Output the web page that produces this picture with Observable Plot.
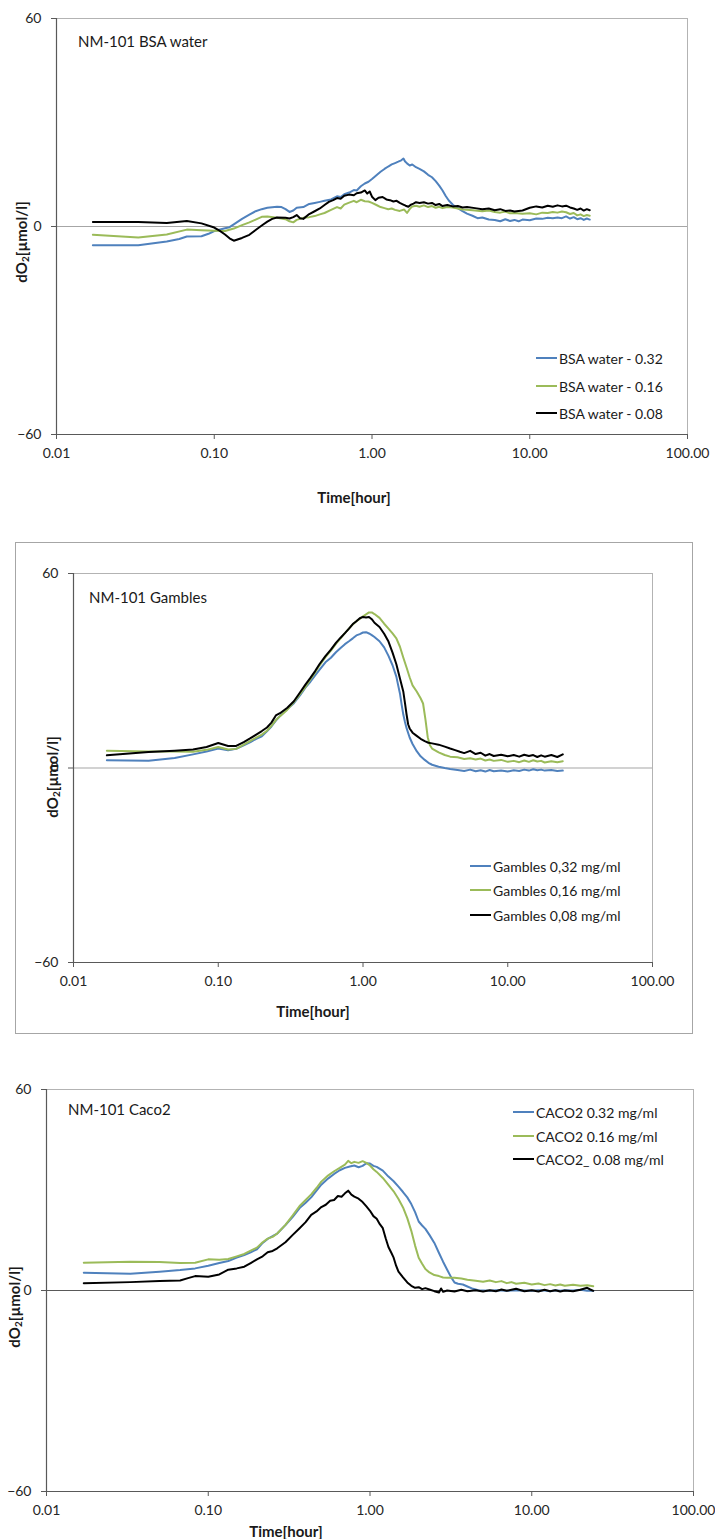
<!DOCTYPE html>
<html>
<head>
<meta charset="utf-8">
<script src="https://cdn.jsdelivr.net/npm/d3@7"></script>
<script src="https://cdn.jsdelivr.net/npm/@observablehq/plot@0.6"></script>
<style>
  body { margin: 0; background: #fff; }
  #page { position: relative; width: 715px; height: 1539px; overflow: hidden; background: #fff; }
  #page svg { position: absolute; left: 0; }
  #box2 { position: absolute; left: 15px; top: 542px; width: 676px; height: 490px; border: 1px solid #a6a6a6; }
</style>
</head>
<body>
<div id="page"><div id="box2"></div></div>
<script>
// Oxygen consumption (dO2, µmol/l) versus time (hours) for NM-101 in three media.
const FONT = "Lato, 'Liberation Sans', sans-serif";
const BLUE = "#4f81bd", GREEN = "#9bbb59", BLACK = "#000000";

const xTicks = [0.01, 0.1, 1, 10, 100];
const yTicks = [-60, 0, 60];

// ---- NM-101 BSA water: [time h, dO2] ----
const bsa032 = [[0.017,-5.4],[0.033,-5.4],[0.05,-4.3],[0.06,-3.6],[0.067,-2.9],[0.083,-2.8],[0.092,-2.1],[0.1,-1.3],[0.117,-0.5],[0.125,-0.2],[0.133,0.6],[0.15,2.2],[0.167,3.4],[0.183,4.4],[0.2,5.0],[0.217,5.4],[0.25,5.7],[0.267,5.6],[0.283,5.0],[0.3,4.2],[0.317,4.6],[0.333,5.4],[0.367,5.6],[0.4,6.5],[0.433,6.8],[0.467,7.1],[0.5,7.4],[0.55,7.8],[0.6,8.7],[0.633,8.5],[0.667,9.3],[0.717,9.8],[0.767,10.5],[0.8,10.4],[0.85,11.6],[0.9,12.4],[0.95,12.9],[1.0,13.7],[1.067,14.8],[1.133,15.8],[1.2,16.6],[1.267,17.3],[1.333,17.9],[1.4,18.3],[1.467,18.7],[1.533,19.1],[1.583,19.6],[1.617,18.8],[1.667,18.2],[1.733,17.6],[1.8,17.9],[1.9,17.1],[2.0,16.6],[2.133,15.9],[2.267,14.9],[2.4,14.2],[2.533,13.1],[2.667,11.8],[2.8,10.4],[2.933,8.8],[3.067,7.5],[3.267,6.2],[3.5,5.3],[3.75,4.4],[4.0,3.7],[4.333,3.1],[4.667,2.4],[5.0,2.6],[5.5,2.0],[6.0,1.9],[6.5,1.5],[7.0,2.1],[7.5,1.6],[8.0,1.9],[8.5,1.5],[9.0,2.0],[10,1.8],[11,2.3],[12,2.2],[13,2.5],[14,2.4],[15,2.6],[16,2.4],[17,2.9],[18,2.3],[19,2.7],[20,2.1],[21,2.4],[22,1.9],[23,2.3],[24,2.0]];
const bsa016 = [[0.017,-2.4],[0.033,-3.2],[0.05,-2.3],[0.067,-0.9],[0.083,-1.1],[0.1,-1.2],[0.117,-1.3],[0.133,-0.6],[0.15,0.4],[0.167,1.2],[0.183,2.0],[0.2,2.8],[0.217,2.9],[0.25,2.5],[0.283,2.1],[0.3,1.5],[0.317,1.2],[0.333,1.9],[0.367,2.5],[0.4,2.7],[0.433,3.0],[0.467,3.5],[0.5,3.9],[0.55,4.8],[0.6,5.6],[0.633,5.2],[0.667,6.3],[0.717,6.9],[0.767,7.4],[0.8,7.0],[0.85,7.7],[0.9,7.3],[0.95,7.2],[1.0,6.8],[1.067,6.2],[1.133,5.6],[1.2,5.3],[1.267,5.0],[1.333,5.2],[1.4,4.8],[1.5,4.5],[1.6,4.9],[1.667,3.9],[1.733,5.0],[1.8,5.8],[1.9,6.0],[2.0,5.7],[2.133,6.1],[2.267,5.6],[2.4,5.9],[2.533,5.4],[2.667,5.7],[2.8,5.3],[3.0,5.6],[3.25,5.5],[3.5,5.2],[3.75,4.9],[4.0,4.8],[4.5,4.6],[5.0,4.4],[5.5,4.6],[6.0,4.2],[6.5,4.0],[7.0,4.3],[7.5,3.8],[8.0,3.9],[9.0,3.7],[10,3.8],[11,3.5],[12,4.0],[13,3.9],[14,4.2],[15,4.0],[16,4.3],[17,4.1],[18,3.6],[19,3.9],[20,3.2],[21,3.5],[22,3.0],[23,3.3],[24,3.1]];
const bsa008 = [[0.017,1.3],[0.033,1.3],[0.05,1.0],[0.067,1.6],[0.083,0.9],[0.1,-0.3],[0.108,-1.2],[0.117,-2.3],[0.125,-3.4],[0.133,-4.1],[0.15,-3.3],[0.167,-2.4],[0.183,-1.0],[0.2,0.3],[0.217,1.4],[0.233,2.2],[0.25,2.6],[0.283,2.5],[0.3,2.3],[0.317,2.7],[0.333,3.3],[0.35,2.4],[0.367,2.2],[0.4,3.6],[0.433,4.4],[0.467,5.2],[0.5,6.2],[0.533,7.1],[0.567,7.6],[0.6,8.2],[0.633,8.0],[0.667,8.9],[0.717,9.2],[0.767,9.0],[0.8,9.6],[0.85,9.8],[0.9,10.4],[0.933,9.5],[0.967,10.1],[1.0,8.6],[1.05,7.6],[1.1,8.3],[1.167,8.5],[1.233,7.8],[1.3,7.6],[1.367,7.2],[1.433,7.4],[1.5,6.8],[1.567,6.4],[1.633,6.0],[1.7,5.7],[1.767,6.3],[1.833,6.6],[1.9,7.0],[2.0,6.8],[2.133,7.0],[2.267,6.6],[2.4,6.8],[2.533,6.2],[2.667,6.5],[2.8,5.9],[3.0,6.2],[3.25,5.8],[3.5,5.9],[3.75,5.5],[4.0,5.6],[4.5,5.3],[5.0,5.0],[5.5,5.2],[6.0,4.7],[6.5,5.0],[7.0,4.5],[7.5,4.6],[8.0,4.3],[9.0,4.6],[10,5.4],[11,5.8],[12,5.5],[13,6.0],[14,5.7],[15,6.1],[16,5.8],[17,6.0],[18,5.5],[19,5.2],[20,4.8],[21,5.2],[22,4.6],[23,5.0],[24,4.7]];

// ---- NM-101 Gambles ----
const gam032 = [[0.017,2.4],[0.033,2.2],[0.05,3.1],[0.067,4.2],[0.083,5.1],[0.1,6.0],[0.117,5.5],[0.133,5.9],[0.15,7.0],[0.167,8.0],[0.183,9.0],[0.2,9.8],[0.217,11.3],[0.233,12.8],[0.25,14.6],[0.267,16.0],[0.3,18.2],[0.333,20.0],[0.367,22.4],[0.4,24.8],[0.433,26.6],[0.467,28.6],[0.5,30.3],[0.55,32.6],[0.6,34.0],[0.65,35.7],[0.7,37.0],[0.75,38.2],[0.8,39.1],[0.85,40.0],[0.9,40.9],[0.95,41.3],[1.0,41.8],[1.05,41.9],[1.1,41.5],[1.15,41.0],[1.2,40.4],[1.3,39.1],[1.4,37.2],[1.5,34.6],[1.6,31.7],[1.7,28.2],[1.75,25.5],[1.8,23.0],[1.85,19.5],[1.9,16.4],[1.95,14.2],[2.0,12.3],[2.1,9.4],[2.2,7.4],[2.35,5.2],[2.5,3.6],[2.67,2.5],[2.83,1.6],[3.0,1.0],[3.33,0.4],[3.67,0.0],[4.0,-0.3],[4.5,-0.6],[5.0,-0.9],[5.5,-0.5],[6.0,-1.0],[6.5,-0.7],[7.0,-1.1],[7.5,-0.6],[8.0,-1.0],[9.0,-0.8],[10,-1.1],[11,-0.7],[12,-0.9],[13,-0.5],[14,-0.8],[15,-0.4],[16,-0.7],[17,-0.5],[18,-0.8],[20,-0.6],[22,-0.9],[24,-0.8]];
const gam016 = [[0.017,5.3],[0.033,5.1],[0.05,5.1],[0.067,5.0],[0.083,5.6],[0.1,6.5],[0.117,5.7],[0.133,5.9],[0.15,7.2],[0.167,8.4],[0.183,9.4],[0.2,10.3],[0.217,11.5],[0.233,13.0],[0.25,14.8],[0.267,16.0],[0.3,18.0],[0.333,20.3],[0.367,22.8],[0.4,25.0],[0.433,27.3],[0.467,29.5],[0.5,31.6],[0.55,34.2],[0.6,36.2],[0.65,38.3],[0.7,40.0],[0.75,41.6],[0.8,43.0],[0.85,44.3],[0.9,45.3],[0.95,46.0],[1.0,46.8],[1.05,47.4],[1.1,48.0],[1.15,48.0],[1.2,47.5],[1.3,46.3],[1.4,44.5],[1.5,43.0],[1.6,41.5],[1.7,40.0],[1.8,37.4],[1.9,34.0],[2.0,31.0],[2.1,28.0],[2.2,25.5],[2.35,23.6],[2.5,21.5],[2.6,19.9],[2.7,15.0],[2.8,9.5],[2.9,7.0],[3.0,6.0],[3.33,4.8],[3.67,4.0],[4.0,3.5],[4.5,3.3],[5.0,2.8],[5.5,3.0],[6.0,2.6],[6.5,2.9],[7.0,2.3],[7.5,2.6],[8.0,2.2],[9.0,2.5],[10,1.9],[11,2.2],[12,1.8],[13,2.3],[14,1.9],[15,2.4],[16,2.0],[17,2.2],[18,1.7],[20,2.1],[22,1.8],[24,2.1]];
const gam008 = [[0.017,3.9],[0.033,4.9],[0.05,5.3],[0.067,5.7],[0.083,6.5],[0.1,7.7],[0.117,6.8],[0.133,6.8],[0.15,8.0],[0.167,9.2],[0.183,10.3],[0.2,11.4],[0.217,12.5],[0.233,14.0],[0.25,16.2],[0.267,16.9],[0.3,18.6],[0.333,20.6],[0.367,23.3],[0.4,25.7],[0.433,27.8],[0.467,29.9],[0.5,32.0],[0.55,34.5],[0.6,36.5],[0.65,38.6],[0.7,40.2],[0.75,41.6],[0.8,43.0],[0.85,44.4],[0.9,45.3],[0.95,46.2],[1.0,46.6],[1.05,46.4],[1.1,46.6],[1.15,45.9],[1.2,44.8],[1.3,43.5],[1.4,41.4],[1.5,39.0],[1.6,35.6],[1.7,32.0],[1.8,27.6],[1.9,23.5],[1.95,20.0],[2.0,16.5],[2.05,13.5],[2.1,12.2],[2.2,10.9],[2.35,9.9],[2.5,9.0],[2.67,8.3],[2.83,7.8],[3.0,7.6],[3.33,7.2],[3.67,6.6],[4.0,6.0],[4.33,5.5],[4.67,5.0],[5.0,4.6],[5.5,5.3],[6.0,4.3],[6.5,4.7],[7.0,3.8],[7.5,4.3],[8.0,3.7],[9.0,4.1],[10,3.6],[11,4.0],[12,3.5],[13,4.1],[14,3.7],[15,4.0],[16,3.4],[17,3.9],[18,3.5],[20,4.0],[22,3.4],[24,4.2]];

// ---- NM-101 Caco2 ----
const caco032 = [[0.017,5.3],[0.033,5.0],[0.05,5.6],[0.067,6.1],[0.083,6.6],[0.1,7.4],[0.117,8.2],[0.133,8.8],[0.15,9.8],[0.167,10.6],[0.183,11.4],[0.2,12.3],[0.217,14.2],[0.233,15.4],[0.25,16.2],[0.267,17.0],[0.3,19.5],[0.333,22.0],[0.367,24.6],[0.4,26.2],[0.433,27.8],[0.467,29.8],[0.5,31.6],[0.55,33.4],[0.6,34.8],[0.65,35.9],[0.7,36.6],[0.75,37.0],[0.8,37.3],[0.85,36.8],[0.9,37.2],[0.95,38.0],[1.0,37.9],[1.05,37.2],[1.1,36.9],[1.2,35.8],[1.3,34.0],[1.4,32.6],[1.5,31.0],[1.6,29.4],[1.7,27.8],[1.8,25.8],[1.9,23.4],[2.0,20.6],[2.1,19.4],[2.2,18.4],[2.33,16.6],[2.5,14.2],[2.67,11.2],[2.83,8.6],[3.0,6.2],[3.17,4.0],[3.33,2.4],[3.5,2.0],[3.75,1.8],[4.0,1.2],[4.33,0.5],[4.67,0.1],[5.0,0.0],[5.5,-0.1],[6.0,0.1],[7.0,-0.1],[8.0,0.1],[9.0,0.0],[10,-0.1],[11,0.1],[12,0.0],[13,-0.2],[14,0.1],[15,-0.1],[16,0.1],[18,0.0],[20,0.2],[22,-0.1],[24,-0.1]];
const caco016 = [[0.017,8.3],[0.033,8.6],[0.05,8.5],[0.067,8.2],[0.083,8.3],[0.1,9.3],[0.117,9.2],[0.133,9.4],[0.15,10.2],[0.167,10.9],[0.183,11.9],[0.2,12.8],[0.217,14.4],[0.233,15.5],[0.25,16.0],[0.267,17.0],[0.3,19.6],[0.333,22.4],[0.367,25.2],[0.4,27.0],[0.433,28.7],[0.467,30.6],[0.5,32.5],[0.55,34.3],[0.6,35.6],[0.65,36.6],[0.7,37.6],[0.733,38.7],[0.767,38.0],[0.8,38.4],[0.85,38.1],[0.9,38.6],[0.95,38.1],[1.0,37.3],[1.05,36.2],[1.1,35.4],[1.2,33.6],[1.3,31.5],[1.4,29.6],[1.5,27.3],[1.6,24.8],[1.7,21.6],[1.8,17.8],[1.9,13.4],[2.0,9.8],[2.1,8.0],[2.2,6.4],[2.33,5.4],[2.5,4.6],[2.67,4.3],[2.83,3.9],[3.0,3.8],[3.33,3.8],[3.67,3.6],[4.0,3.2],[4.5,2.9],[5.0,2.6],[5.5,3.0],[6.0,2.5],[6.5,2.8],[7.0,2.2],[7.5,2.5],[8.0,2.0],[9.0,2.3],[10,1.8],[11,2.1],[12,1.6],[13,1.9],[14,1.5],[15,1.8],[16,1.4],[18,1.7],[20,1.4],[22,1.6],[24,1.3]];
const caco008 = [[0.017,2.2],[0.033,2.5],[0.05,2.8],[0.067,3.0],[0.075,3.7],[0.083,4.3],[0.1,4.1],[0.117,4.8],[0.133,6.2],[0.15,6.6],[0.167,7.1],[0.183,8.2],[0.2,9.3],[0.217,10.2],[0.233,11.4],[0.25,11.8],[0.267,12.6],[0.3,14.4],[0.333,16.6],[0.367,18.6],[0.4,20.4],[0.433,22.6],[0.467,23.6],[0.5,24.9],[0.533,25.6],[0.567,26.8],[0.6,27.0],[0.633,28.2],[0.667,28.0],[0.7,29.0],[0.733,29.8],[0.767,28.6],[0.8,28.0],[0.85,27.4],[0.9,26.4],[0.95,25.1],[1.0,23.8],[1.05,22.2],[1.1,21.4],[1.15,19.8],[1.2,18.6],[1.25,15.6],[1.3,13.0],[1.35,11.4],[1.4,9.8],[1.45,7.4],[1.5,5.6],[1.6,3.9],[1.7,2.4],[1.8,1.4],[1.9,0.8],[2.0,1.0],[2.1,0.4],[2.2,0.7],[2.33,0.3],[2.5,-0.2],[2.67,-0.6],[2.75,0.6],[2.83,-0.4],[3.0,0.0],[3.33,-0.3],[3.67,0.2],[4.0,-0.2],[4.5,0.1],[5.0,-0.3],[5.5,0.1],[6.0,-0.2],[6.5,0.3],[7.0,-0.1],[7.5,0.2],[8.0,0.5],[9.0,-0.2],[10,0.1],[11,-0.3],[12,0.2],[13,-0.2],[14,0.1],[15,-0.3],[16,0.0],[18,-0.2],[20,0.2],[22,0.8],[23,0.3],[24,-0.1]];

const bsaNames = ["BSA water - 0.32", "BSA water - 0.16", "BSA water - 0.08"];
const gamNames = ["Gambles 0,32 mg/ml", "Gambles 0,16 mg/ml", "Gambles 0,08 mg/ml"];
const cacoNames = ["CACO2 0.32 mg/ml", "CACO2 0.16 mg/ml", "CACO2_ 0.08 mg/ml"];
const seriesColors = [BLUE, GREEN, BLACK];

const panels = [
  { top: 0, height: 515, mt: 18, mb: 81, ml: 56, mr: 28, zero: "#a6a6a6",
    title: "NM-101 BSA water", titlePos: [78, 41],
    names: bsaNames, data: [bsa032, bsa016, bsa008],
    legend: { x: 536, rows: [358, 386, 413] },
    xTitle: [354, 497], yTitle: [21, 242] },
  { top: 530, height: 500, mt: 43, mb: 68, ml: 73, mr: 63, zero: "#a6a6a6",
    title: "NM-101 Gambles", titlePos: [89, 67],
    names: gamNames, data: [gam032, gam016, gam008],
    legend: { x: 470, rows: [336, 360, 385] },
    xTitle: [313, 481], yTitle: [52, 247] },
  { top: 1040, height: 499, mt: 49, mb: 48, ml: 46, mr: 22, zero: "#595959",
    title: "NM-101 Caco2", titlePos: [68, 69],
    names: cacoNames, data: [caco032, caco016, caco008],
    legend: { x: 513, rows: [72, 96, 119] },
    xTitle: [286, 491], yTitle: [14, 267] }
];

const page = document.getElementById("page");

for (const p of panels) {
  const rows = p.names.flatMap((name, i) => p.data[i].map(([t, v]) => ({ t, v, name })));
  const chart = Plot.plot({
    width: 715,
    height: p.height,
    marginTop: p.mt, marginBottom: p.mb, marginLeft: p.ml, marginRight: p.mr,
    style: { fontFamily: FONT, fontSize: "14px", color: "#262626", background: "transparent", overflow: "visible" },
    x: { type: "log", domain: [0.01, 100] },
    y: { domain: [-60, 60] },
    color: { domain: p.names, range: seriesColors },
    marks: [
      Plot.frame({ stroke: "#b3b3b3" }),
      Plot.ruleY([0], { stroke: p.zero, strokeWidth: 1.2 }),
      Plot.line(rows, { x: "t", y: "v", z: "name", stroke: "name", strokeWidth: 2, strokeLinejoin: "round" }),
      Plot.ruleX([0.01], { stroke: "#595959", strokeWidth: 1.2 }),
      Plot.ruleY([-60], { stroke: "#595959", strokeWidth: 1.2 }),
      Plot.axisX({ ticks: xTicks, tickFormat: d => d.toFixed(2), tickSize: 5, tickPadding: 9, label: null, stroke: "#595959" }),
      Plot.axisY({ ticks: yTicks, tickSize: 5, tickPadding: 10, label: null, stroke: "#595959" })
    ]
  });
  chart.style.top = p.top + "px";
  page.appendChild(chart);

  const svg = d3.select(chart);

  svg.append("text")
    .attr("x", p.titlePos[0]).attr("y", p.titlePos[1])
    .attr("text-anchor", "start").attr("dominant-baseline", "central")
    .style("font-family", FONT).style("font-size", "15px").attr("fill", "#1a1a1a")
    .text(p.title);

  svg.append("text")
    .attr("x", p.xTitle[0]).attr("y", p.xTitle[1])
    .attr("text-anchor", "middle").attr("dominant-baseline", "central")
    .style("font-family", FONT).style("font-size", "15px").style("font-weight", "bold").attr("fill", "#1a1a1a")
    .text("Time[hour]");

  const yt = svg.append("text")
    .attr("transform", `translate(${p.yTitle[0]},${p.yTitle[1]}) rotate(-90)`)
    .attr("text-anchor", "middle").attr("dominant-baseline", "central")
    .style("font-family", FONT).style("font-size", "15px").style("font-weight", "bold").attr("fill", "#1a1a1a");
  yt.append("tspan").text("dO");
  yt.append("tspan").attr("dy", 4).style("font-size", "10px").text("2");
  yt.append("tspan").attr("dy", -4).text("[µmol/l]");

  const lg = svg.append("g");
  p.names.forEach((name, i) => {
    const y = p.legend.rows[i];
    lg.append("line")
      .attr("x1", p.legend.x).attr("x2", p.legend.x + 21)
      .attr("y1", y).attr("y2", y)
      .attr("stroke", seriesColors[i]).attr("stroke-width", 2);
    lg.append("text")
      .attr("x", p.legend.x + 23).attr("y", y)
      .attr("text-anchor", "start").attr("dominant-baseline", "central")
      .style("font-family", FONT).style("font-size", "14px").attr("fill", "#1a1a1a")
      .text(name);
  });
}
</script>
</body>
</html>
